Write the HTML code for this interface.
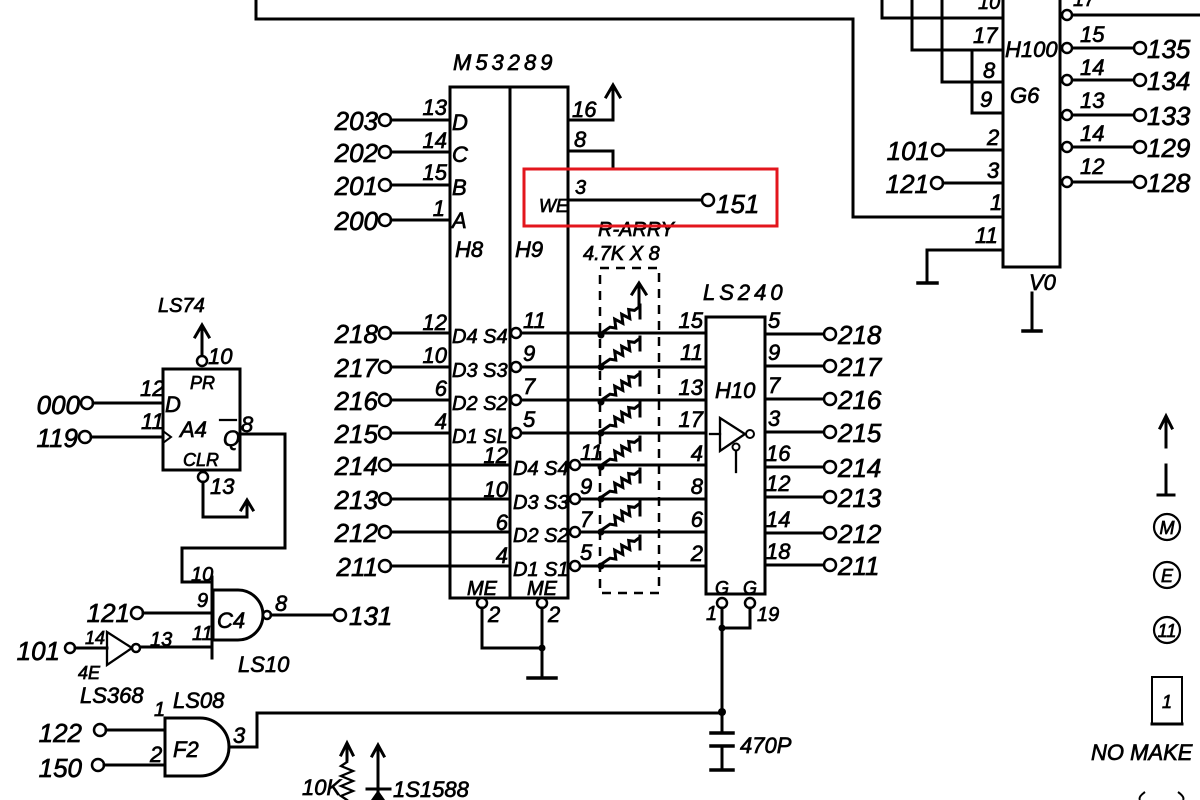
<!DOCTYPE html>
<html><head><meta charset="utf-8"><style>
html,body{margin:0;padding:0;background:#fff;}
svg{display:block;}
text{font-family:"Liberation Sans",sans-serif;font-style:italic;fill:#000;stroke:#000;stroke-width:0.7;}
.l{fill:none;stroke:#000;stroke-width:3;stroke-linecap:square;}
.c{fill:#fff;stroke:#000;stroke-width:2.5;}
.f{fill:#000;stroke:none;}
.t26{font-size:26px;}
.t22{font-size:22px;}
.t20{font-size:20px;}
.t18{font-size:18px;}
</style></head><body>
<svg width="1200" height="800" viewBox="0 0 1200 800" xmlns="http://www.w3.org/2000/svg">
<rect width="1200" height="800" fill="#fff"/>

<!-- top wiring -->
<path class="l" d="M256,0 V19 H853 V217 H1003"/>

<!-- H100 / G6 -->
<rect class="l" x="1003" y="-10" width="57" height="277"/>
<path class="l" d="M882,0 V18 H1003"/>
<path class="l" d="M912,0 V50 H1003"/>
<path class="l" d="M942,0 V82 H1003"/>
<path class="l" d="M972,52 V113 H1003"/>
<text class="t20" x="978" y="9">10</text>
<text class="t22" x="973" y="43">17</text>
<text class="t22" x="983" y="78">8</text>
<text class="t22" x="980" y="107">9</text>
<text class="t22" x="1005" y="57">H100</text>
<text class="t22" x="1010" y="103">G6</text>
<text class="t22" x="987" y="145">2</text>
<text class="t22" x="987" y="178">3</text>
<text class="t22" x="990" y="210">1</text>
<text class="t22" x="975" y="243">11</text>
<circle class="c" cx="938" cy="150" r="6"/><path class="l" d="M944,150 H1003"/>
<text class="t26" x="930" y="160" text-anchor="end">101</text>
<circle class="c" cx="937" cy="183" r="6"/><path class="l" d="M943,183 H1003"/>
<text class="t26" x="929" y="193" text-anchor="end">121</text>
<path class="l" d="M1003,250 H927 V282"/><path class="l" d="M918,283 H937" style="stroke-width:3.5"/>
<text class="t22" x="1029" y="290">V0</text>
<path class="l" d="M1032,293 V330"/><path class="l" d="M1023,331 H1041" style="stroke-width:3.5"/>
<!-- right bubbles -->
<path class="l" d="M1072,15 H1200"/>
<circle class="c" cx="1067" cy="15" r="5"/>
<text class="t20" x="1073" y="6">17</text>
<g>
<path class="l" d="M1072,48 H1134"/><circle class="c" cx="1067" cy="48" r="5"/><circle class="c" cx="1140" cy="48" r="6"/>
<text class="t22" x="1080" y="42">15</text><text class="t26" x="1147" y="58">135</text>
<path class="l" d="M1072,80 H1134"/><circle class="c" cx="1067" cy="80" r="5"/><circle class="c" cx="1140" cy="80" r="6"/>
<text class="t22" x="1080" y="75">14</text><text class="t26" x="1147" y="90">134</text>
<path class="l" d="M1072,115 H1134"/><circle class="c" cx="1067" cy="115" r="5"/><circle class="c" cx="1140" cy="115" r="6"/>
<text class="t22" x="1080" y="108">13</text><text class="t26" x="1147" y="125">133</text>
<path class="l" d="M1072,147 H1134"/><circle class="c" cx="1067" cy="147" r="5"/><circle class="c" cx="1140" cy="147" r="6"/>
<text class="t22" x="1080" y="141">14</text><text class="t26" x="1147" y="157">129</text>
<path class="l" d="M1072,182 H1134"/><circle class="c" cx="1067" cy="182" r="5"/><circle class="c" cx="1140" cy="182" r="6"/>
<text class="t22" x="1080" y="174">12</text><text class="t26" x="1147" y="192">128</text>
</g>

<!-- M53289 H8/H9 -->
<text class="t22" x="453" y="70" letter-spacing="4">M53289</text>
<rect class="l" x="450" y="87" width="118" height="511"/>
<path class="l" d="M510,87 V598"/>
<g>
<circle class="c" cx="385" cy="120" r="6"/><path class="l" d="M391,120 H450"/><text class="t26" x="378" y="130" text-anchor="end">203</text>
<circle class="c" cx="385" cy="152" r="6"/><path class="l" d="M391,152 H450"/><text class="t26" x="378" y="162" text-anchor="end">202</text>
<circle class="c" cx="385" cy="185" r="6"/><path class="l" d="M391,185 H450"/><text class="t26" x="378" y="195" text-anchor="end">201</text>
<circle class="c" cx="385" cy="220" r="6"/><path class="l" d="M391,220 H450"/><text class="t26" x="378" y="230" text-anchor="end">200</text>
<text class="t22" x="447" y="115" text-anchor="end">13</text>
<text class="t22" x="447" y="148" text-anchor="end">14</text>
<text class="t22" x="447" y="180" text-anchor="end">15</text>
<text class="t22" x="445" y="216" text-anchor="end">1</text>
<text class="t22" x="452" y="130">D</text>
<text class="t22" x="452" y="162">C</text>
<text class="t22" x="452" y="195">B</text>
<text class="t22" x="452" y="228">A</text>
</g>
<text class="t22" x="455" y="257">H8</text>
<text class="t22" x="515" y="257">H9</text>
<text class="t22" x="572" y="117">16</text>
<path class="l" d="M568,120 H613 V88"/><path class="l" d="M606,97 L613,85 L620,97"/>
<text class="t22" x="574" y="147">8</text>
<path class="l" d="M568,151 H613 V167"/>
<text class="t18" x="539" y="212">WE</text>
<text class="t20" x="575" y="194">3</text>
<path class="l" d="M568,200 H702"/><circle class="c" cx="708" cy="200" r="6"/>
<text class="t26" x="716" y="213">151</text>

<!-- upper data pins -->
<g>
<circle class="c" cx="385" cy="333" r="6"/><path class="l" d="M391,333 H450"/><text class="t26" x="378" y="343" text-anchor="end">218</text>
<circle class="c" cx="385" cy="367" r="6"/><path class="l" d="M391,367 H450"/><text class="t26" x="378" y="377" text-anchor="end">217</text>
<circle class="c" cx="385" cy="400" r="6"/><path class="l" d="M391,400 H450"/><text class="t26" x="378" y="410" text-anchor="end">216</text>
<circle class="c" cx="385" cy="433" r="6"/><path class="l" d="M391,433 H450"/><text class="t26" x="378" y="443" text-anchor="end">215</text>
<text class="t22" x="447" y="330" text-anchor="end">12</text>
<text class="t22" x="447" y="363" text-anchor="end">10</text>
<text class="t22" x="447" y="396" text-anchor="end">6</text>
<text class="t22" x="447" y="429" text-anchor="end">4</text>
<text class="t20" x="452" y="343">D4 S4</text>
<text class="t20" x="452" y="377">D3 S3</text>
<text class="t20" x="452" y="410">D2 S2</text>
<text class="t20" x="452" y="443">D1 SL</text>
<path class="l" d="M521,333 H706"/><path class="l" d="M521,367 H706"/><path class="l" d="M521,400 H706"/><path class="l" d="M521,433 H706"/>
<circle class="c" cx="516" cy="333" r="5"/><circle class="c" cx="516" cy="367" r="5"/><circle class="c" cx="516" cy="400" r="5"/><circle class="c" cx="516" cy="433" r="5"/>
<text class="t22" x="523" y="328">11</text>
<text class="t22" x="523" y="361">9</text>
<text class="t22" x="523" y="394">7</text>
<text class="t22" x="523" y="427">5</text>
</g>
<!-- lower data pins -->
<g>
<circle class="c" cx="385" cy="465" r="6"/><path class="l" d="M391,465 H510"/><text class="t26" x="378" y="475" text-anchor="end">214</text>
<circle class="c" cx="385" cy="499" r="6"/><path class="l" d="M391,499 H510"/><text class="t26" x="378" y="509" text-anchor="end">213</text>
<circle class="c" cx="385" cy="532" r="6"/><path class="l" d="M391,532 H510"/><text class="t26" x="378" y="542" text-anchor="end">212</text>
<circle class="c" cx="385" cy="566" r="6"/><path class="l" d="M391,566 H510"/><text class="t26" x="378" y="576" text-anchor="end">211</text>
<text class="t22" x="508" y="463" text-anchor="end">12</text>
<text class="t22" x="508" y="497" text-anchor="end">10</text>
<text class="t22" x="508" y="530" text-anchor="end">6</text>
<text class="t22" x="508" y="563" text-anchor="end">4</text>
<text class="t20" x="513" y="475">D4 S4</text>
<text class="t20" x="513" y="509">D3 S3</text>
<text class="t20" x="513" y="542">D2 S2</text>
<text class="t20" x="513" y="576">D1 S1</text>
<path class="l" d="M580,465 H706"/><path class="l" d="M580,499 H706"/><path class="l" d="M580,532 H706"/><path class="l" d="M580,566 H706"/>
<circle class="c" cx="575" cy="465" r="5"/><circle class="c" cx="575" cy="499" r="5"/><circle class="c" cx="575" cy="532" r="5"/><circle class="c" cx="575" cy="566" r="5"/>
<text class="t22" x="580" y="460">11</text>
<text class="t22" x="580" y="494">9</text>
<text class="t22" x="580" y="527">7</text>
<text class="t22" x="580" y="560">5</text>
</g>
<text class="t20" x="467" y="595">ME</text>
<text class="t20" x="527" y="595">ME</text>
<circle class="c" cx="482" cy="603" r="5"/><circle class="c" cx="542" cy="603" r="5"/>
<text class="t22" x="488" y="622">2</text><text class="t22" x="548" y="622">2</text>
<path class="l" d="M482,608 V648 H542"/><path class="l" d="M542,608 V678"/>
<path class="l" d="M528,678 H556" style="stroke-width:3.5"/>
<circle class="f" cx="542" cy="648" r="3.5"/>

<!-- resistor array -->
<text class="t20" x="598" y="236">R-ARRY</text>
<text class="t20" x="583" y="260">4.7K X 8</text>
<rect x="600" y="268" width="59" height="325" fill="none" stroke="#000" stroke-width="2.5" stroke-dasharray="9 7"/>
<path class="l" d="M639,286 V306"/><path class="l" d="M632,294 L639,283 L646,294"/>
<g transform="translate(0,0)"><path class="l" d="M603,332 L610,327.2 L615.8,328.1 L614.7,319.1 L622.8,323.3 L621.7,314.3 L629.8,318.5 L628.7,309.5 L634.5,310.4 L639,307"/><path class="l" d="M640,305 V318"/><circle class="f" cx="601" cy="335" r="3.5"/></g>
<g transform="translate(0,32)"><path class="l" d="M603,332 L610,327.2 L615.8,328.1 L614.7,319.1 L622.8,323.3 L621.7,314.3 L629.8,318.5 L628.7,309.5 L634.5,310.4 L639,307"/><path class="l" d="M640,305 V318"/><circle class="f" cx="601" cy="335" r="3.5"/></g>
<g transform="translate(0,67)"><path class="l" d="M603,332 L610,327.2 L615.8,328.1 L614.7,319.1 L622.8,323.3 L621.7,314.3 L629.8,318.5 L628.7,309.5 L634.5,310.4 L639,307"/><path class="l" d="M640,305 V318"/><circle class="f" cx="601" cy="335" r="3.5"/></g>
<g transform="translate(0,98)"><path class="l" d="M603,332 L610,327.2 L615.8,328.1 L614.7,319.1 L622.8,323.3 L621.7,314.3 L629.8,318.5 L628.7,309.5 L634.5,310.4 L639,307"/><path class="l" d="M640,305 V318"/><circle class="f" cx="601" cy="335" r="3.5"/></g>
<g transform="translate(0,132)"><path class="l" d="M603,332 L610,327.2 L615.8,328.1 L614.7,319.1 L622.8,323.3 L621.7,314.3 L629.8,318.5 L628.7,309.5 L634.5,310.4 L639,307"/><path class="l" d="M640,305 V318"/><circle class="f" cx="601" cy="335" r="3.5"/></g>
<g transform="translate(0,164)"><path class="l" d="M603,332 L610,327.2 L615.8,328.1 L614.7,319.1 L622.8,323.3 L621.7,314.3 L629.8,318.5 L628.7,309.5 L634.5,310.4 L639,307"/><path class="l" d="M640,305 V318"/><circle class="f" cx="601" cy="335" r="3.5"/></g>
<g transform="translate(0,197)"><path class="l" d="M603,332 L610,327.2 L615.8,328.1 L614.7,319.1 L622.8,323.3 L621.7,314.3 L629.8,318.5 L628.7,309.5 L634.5,310.4 L639,307"/><path class="l" d="M640,305 V318"/><circle class="f" cx="601" cy="335" r="3.5"/></g>
<g transform="translate(0,231)"><path class="l" d="M603,332 L610,327.2 L615.8,328.1 L614.7,319.1 L622.8,323.3 L621.7,314.3 L629.8,318.5 L628.7,309.5 L634.5,310.4 L639,307"/><path class="l" d="M640,305 V318"/><circle class="f" cx="601" cy="335" r="3.5"/></g>

<!-- red highlight -->
<rect x="524" y="169" width="253" height="57" fill="none" stroke="#e3161d" stroke-width="3"/>

<!-- LS240 H10 -->
<text class="t22" x="703" y="300" letter-spacing="4">LS240</text>
<rect class="l" x="706" y="317" width="59" height="277"/>
<g>
<text class="t22" x="703" y="328" text-anchor="end">15</text>
<text class="t22" x="703" y="360" text-anchor="end">11</text>
<text class="t22" x="703" y="395" text-anchor="end">13</text>
<text class="t22" x="703" y="427" text-anchor="end">17</text>
<text class="t22" x="703" y="461" text-anchor="end">4</text>
<text class="t22" x="703" y="494" text-anchor="end">8</text>
<text class="t22" x="703" y="527" text-anchor="end">6</text>
<text class="t22" x="703" y="561" text-anchor="end">2</text>
<text class="t22" x="768" y="328">5</text>
<text class="t22" x="768" y="360">9</text>
<text class="t22" x="768" y="393">7</text>
<text class="t22" x="768" y="426">3</text>
<text class="t22" x="766" y="461">16</text>
<text class="t22" x="766" y="491">12</text>
<text class="t22" x="766" y="527">14</text>
<text class="t22" x="766" y="559">18</text>
</g>
<g>
<path class="l" d="M765,334 H824"/><circle class="c" cx="830" cy="334" r="6"/><text class="t26" x="838" y="344">218</text>
<path class="l" d="M765,366 H824"/><circle class="c" cx="830" cy="366" r="6"/><text class="t26" x="838" y="376">217</text>
<path class="l" d="M765,399 H824"/><circle class="c" cx="830" cy="399" r="6"/><text class="t26" x="838" y="409">216</text>
<path class="l" d="M765,432 H824"/><circle class="c" cx="830" cy="432" r="6"/><text class="t26" x="838" y="442">215</text>
<path class="l" d="M765,467 H824"/><circle class="c" cx="830" cy="467" r="6"/><text class="t26" x="838" y="477">214</text>
<path class="l" d="M765,497 H824"/><circle class="c" cx="830" cy="497" r="6"/><text class="t26" x="838" y="507">213</text>
<path class="l" d="M765,533 H824"/><circle class="c" cx="830" cy="533" r="6"/><text class="t26" x="838" y="543">212</text>
<path class="l" d="M765,565 H824"/><circle class="c" cx="830" cy="565" r="6"/><text class="t26" x="838" y="575">211</text>
</g>
<text class="t22" x="715" y="398">H10</text>
<path class="l" d="M720,418 L720,451 L745,434 Z" style="stroke-width:2.3"/>
<path class="l" d="M710,434 H720" style="stroke-width:2.3"/>
<circle class="c" cx="750" cy="434" r="4" style="stroke-width:2"/>
<circle class="c" cx="736" cy="447" r="3.5" style="stroke-width:2"/>
<path class="l" d="M736,451 V472" style="stroke-width:2.3"/>
<text class="t18" x="715" y="594">G</text><text class="t18" x="743" y="594">G</text>
<circle class="c" cx="722" cy="603" r="5"/><circle class="c" cx="750" cy="603" r="5"/>
<text class="t20" x="706" y="620">1</text><text class="t20" x="757" y="621">19</text>
<path class="l" d="M722,608 V733"/><path class="l" d="M722,628 H750 V608"/>
<circle class="f" cx="722" cy="628" r="3.5"/><circle class="f" cx="722" cy="712" r="4"/>
<path class="l" d="M711,733 H733" style="stroke-width:3.5"/><path class="l" d="M711,746 H733" style="stroke-width:3.5"/>
<path class="l" d="M722,746 V770"/><path class="l" d="M711,770 H733" style="stroke-width:3.5"/>
<text class="t22" x="740" y="753">470P</text>

<!-- LS74 A4 -->
<text class="t20" x="158" y="312">LS74</text>
<path class="l" d="M202,355 V328"/><path class="l" d="M195,337 L202,325 L209,337"/>
<circle class="c" cx="202" cy="361" r="5"/>
<text class="t22" x="208" y="364">10</text>
<rect class="l" x="163" y="369" width="77" height="101"/>
<text class="t18" x="190" y="389">PR</text>
<text class="t22" x="165" y="412">D</text>
<text class="t22" x="140" y="396">12</text>
<circle class="c" cx="87" cy="403" r="6"/><path class="l" d="M93,403 H163"/>
<text class="t26" x="80" y="414" text-anchor="end">000</text>
<circle class="c" cx="85" cy="437" r="6"/><path class="l" d="M91,437 H163"/>
<path class="l" d="M163,431 L171,437 L163,443" style="stroke-width:2"/>
<text class="t22" x="141" y="429">11</text>
<text class="t26" x="78" y="447" text-anchor="end">119</text>
<text class="t22" x="180" y="437">A4</text>
<text class="t22" x="223" y="446">Q</text><path class="l" d="M220,420 H236" style="stroke-width:2.2"/>
<text class="t22" x="241" y="432">8</text>
<path class="l" d="M240,434 H285 V548 H182 V582 H212"/>
<text class="t18" x="183" y="466">CLR</text>
<circle class="c" cx="203" cy="477" r="5"/>
<text class="t22" x="210" y="494">13</text>
<path class="l" d="M203,482 V517 H247 V503"/><path class="l" d="M241,510 L247,500 L253,510"/>
<text class="t20" x="191" y="581">10</text>

<!-- C4 LS10 -->
<path class="l" d="M212,577 V658"/>
<path class="l" d="M213,590 H238 A25,25 0 0 1 238,640 H213 Z"/>
<circle class="c" cx="267" cy="615" r="4"/>
<path class="l" d="M271,615 H334"/><circle class="c" cx="340" cy="615" r="6"/>
<text class="t22" x="275" y="611">8</text>
<text class="t26" x="349" y="625">131</text>
<text class="t22" x="217" y="628">C4</text>
<text class="t20" x="197" y="607">9</text>
<circle class="c" cx="137" cy="613" r="6"/><path class="l" d="M143,613 H212"/>
<text class="t26" x="130" y="622" text-anchor="end">121</text>
<text class="t20" x="192" y="640">11</text>
<path class="l" d="M141,647 H212"/>
<text class="t22" x="238" y="672">LS10</text>

<!-- inverter 4E -->
<path class="l" d="M107,632 L107,665 L132,648 Z" style="stroke-width:2.3"/>
<circle class="c" cx="136" cy="648" r="4"/>
<text class="t20" x="150" y="646">13</text>
<circle class="c" cx="70" cy="648" r="5"/><path class="l" d="M75,648 H107"/>
<text class="t26" x="60" y="660" text-anchor="end">101</text>
<text class="t18" x="85" y="644">14</text>
<text class="t18" x="78" y="679">4E</text>
<text class="t22" x="80" y="703">LS368</text>
<text class="t22" x="173" y="708">LS08</text>

<!-- F2 LS08 -->
<path class="l" d="M165,718 H200 A29,29 0 0 1 200,776 H165 Z"/>
<circle class="c" cx="100" cy="730" r="6"/><path class="l" d="M106,730 H165"/>
<circle class="c" cx="98" cy="765" r="6"/><path class="l" d="M104,765 H165"/>
<text class="t20" x="154" y="716">1</text>
<text class="t22" x="150" y="762">2</text>
<text class="t26" x="82" y="742" text-anchor="end">122</text>
<text class="t26" x="82" y="777" text-anchor="end">150</text>
<text class="t22" x="173" y="757">F2</text>
<text class="t22" x="233" y="743">3</text>
<path class="l" d="M229,747 H257 V713 H722"/>

<!-- 10K / 1S1588 -->
<text class="t22" x="302" y="795">10K</text>
<path class="l" d="M347,760 V746"/><path class="l" d="M341,755 L347,743 L353,755"/>
<path class="l" d="M347,762 L341,766 L353,771 L341,776 L353,781 L341,786 L353,791 L341,796 L347,800" style="stroke-width:2.3"/>
<path class="l" d="M378,747 V800"/><path class="l" d="M372,756 L378,745 L384,756"/>
<path class="l" d="M367,789 H390"/><path class="f" d="M371,800 L385,800 L378,790 Z"/>
<text class="t22" x="393" y="797">1S1588</text>

<!-- legend -->
<path class="l" d="M1166,447 V419"/><path class="l" d="M1160,428 L1166,416 L1172,428"/>
<path class="l" d="M1166,465 V495"/><path class="l" d="M1158,495 H1174"/>
<circle cx="1167" cy="527" r="13" fill="none" stroke="#000" stroke-width="2.2"/>
<text class="t18" x="1167" y="534" text-anchor="middle">M</text>
<circle cx="1167" cy="575" r="13" fill="none" stroke="#000" stroke-width="2.2"/>
<text class="t18" x="1167" y="582" text-anchor="middle">E</text>
<circle cx="1167" cy="630" r="13" fill="none" stroke="#000" stroke-width="2.2"/>
<text class="t18" x="1167" y="637" text-anchor="middle">11</text>
<rect x="1152" y="677" width="30" height="47" fill="none" stroke="#000" stroke-width="2"/>
<path class="l" d="M1152,724 H1182"/>
<text class="t18" x="1167" y="708" text-anchor="middle">1</text>
<text class="t22" x="1091" y="760">NO MAKE</text>
<path d="M1145,792 Q1138,797 1140,800" fill="none" stroke="#000" stroke-width="2"/>
<path d="M1178,792 Q1185,797 1183,800" fill="none" stroke="#000" stroke-width="2"/>
</svg>
</body></html>
